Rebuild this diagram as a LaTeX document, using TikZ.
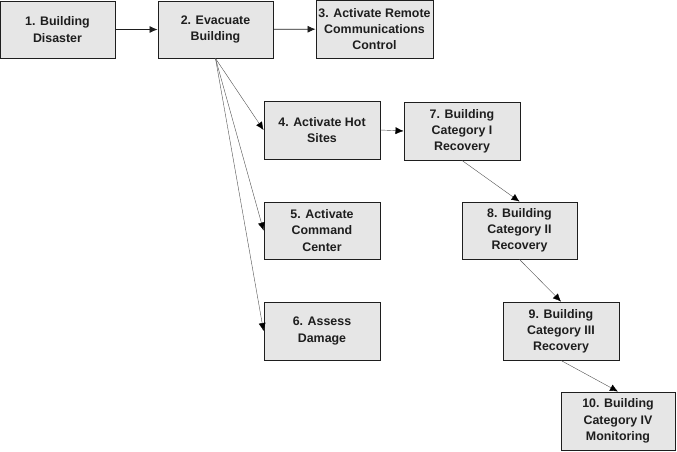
\documentclass[tikz,border=0pt]{standalone}
\usepackage{fontspec}
\setmainfont{Liberation Sans}
\usetikzlibrary{arrows.meta}
\definecolor{boxfill}{RGB}{230,230,230}
\definecolor{boxline}{RGB}{30,30,30}
\definecolor{textgray}{RGB}{30,30,30}
\definecolor{linkgray}{RGB}{80,80,80}

\tikzset{
  stepbox/.style={draw=boxline, fill=boxfill, line width=0.9pt, minimum width=115pt,
    minimum height=57pt, align=center, inner sep=2pt, text=textgray,
    font=\fontsize{12.4}{16.2}\selectfont\bfseries},
  mainarrow/.style={-{Latex[length=8pt,width=7pt]}, boxline, line width=0.8pt},
  thinarrow/.style={-{Latex[length=8pt,width=7pt,color=black]}, linkgray, line width=0.4pt},
}

\begin{document}
\begin{tikzpicture}[x=1pt, y=-1pt]
\useasboundingbox (0,0) rectangle (677,451);

% Top row
\node[stepbox] (n1) at (57.5,29.5) {1. Building\\Disaster};
\node[stepbox] (n2) at (215.5,29.5) {2. Evacuate\\Building};
\node[stepbox, minimum width=117pt, minimum height=58pt] (n3) at (374.5,29) {3. Activate Remote\\Communications\\Control};

% Evacuation branches
\node[stepbox, minimum width=116pt, minimum height=58pt] (n4) at (322,130) {4. Activate Hot\\Sites};
\node[stepbox, minimum width=116pt] (n5) at (322,230.5) {5. Activate\\Command\\Center};
\node[stepbox, minimum width=116pt, minimum height=58pt] (n6) at (322,331) {6. Assess\\Damage};

% Recovery chain
\node[stepbox, minimum width=116pt, minimum height=58pt] (n7) at (462,131) {7. Building\\Category I\\Recovery};
\node[stepbox] (n8) at (519.5,230.5) {8. Building\\Category II\\Recovery};
\node[stepbox, minimum width=116pt, minimum height=58pt] (n9) at (561,331) {9. Building\\Category III\\Recovery};
\node[stepbox, minimum width=114pt, minimum height=58pt] (n10) at (618,421) {10. Building\\Category IV\\Monitoring};

% Connectors
\draw[mainarrow] (n1) -- (n2);
\draw[mainarrow] (n2) -- (n3);
\draw[thinarrow] (n2.south) -- (n4.west);
\draw[thinarrow] (n2.south) -- (n5.west);
\draw[thinarrow] (n2.south) -- (n6.west);
\draw[thinarrow] (n4.east) -- (n7.west);
\draw[thinarrow] (n7.south) -- (n8.north);
\draw[thinarrow] (n8.south) -- (n9.north);
\draw[thinarrow] (n9.south) -- (n10.north);
\end{tikzpicture}
\end{document}
